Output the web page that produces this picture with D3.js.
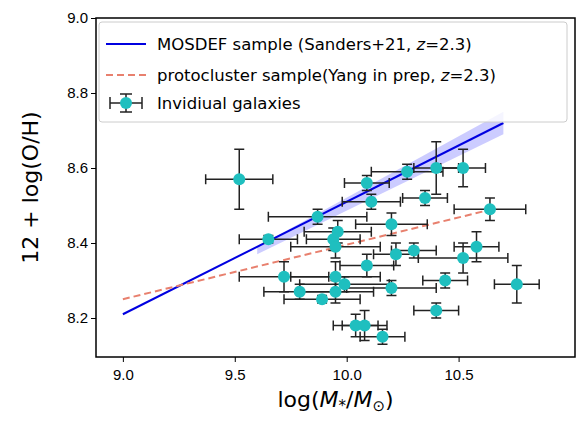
<!DOCTYPE html><html><head><meta charset="utf-8">
<script src="https://cdn.jsdelivr.net/npm/d3@7"></script>
<style>body{margin:0;background:#fff;font-family:"DejaVu Sans",sans-serif}</style></head><body>
<svg id="c" width="587" height="430"></svg>
<script>
const xTicks=[9.0,9.5,10.0,10.5];
const yTicks=[8.2,8.4,8.6,8.8,9.0];
const galX=[9.52,9.65,9.87,9.72,9.79,9.89,9.94,9.96,9.95,9.95,9.95,9.99,10.04,10.08,10.09,10.09,10.11,10.16,10.20,10.20,10.22,10.27,10.30,10.35,10.40,10.40,10.44,10.52,10.52,10.58,10.64,10.76];
const galY=[8.57,8.41,8.47,8.31,8.27,8.25,8.41,8.43,8.39,8.31,8.27,8.29,8.18,8.18,8.34,8.56,8.51,8.15,8.45,8.28,8.37,8.59,8.38,8.52,8.60,8.22,8.30,8.60,8.36,8.39,8.49,8.29];
const galXerr=[0.15,0.13,0.22,0.20,0.16,0.17,0.12,0.15,0.20,0.20,0.17,0.20,0.10,0.10,0.12,0.10,0.13,0.10,0.16,0.20,0.10,0.16,0.10,0.10,0.10,0.10,0.10,0.10,0.20,0.10,0.16,0.10];
const galYerr=[0.08,0.01,0.02,0.04,0.02,0.01,0.03,0.03,0.03,0.04,0.03,0.02,0.03,0.04,0.03,0.02,0.02,0.02,0.03,0.02,0.03,0.02,0.02,0.02,0.07,0.02,0.02,0.05,0.04,0.04,0.03,0.05];
const mosX=[9.0,10.7], mosY=[8.21,8.72];
const bandX=[9.6,10.7], bandLo=[8.37,8.69], bandHi=[8.39,8.75];
const protoX=[9.0,10.65], protoY=[8.25,8.49];
const L=96,R=575,T=18,B=357;
const x=d3.scaleLinear().domain([8.88,11.02]).range([L,R]);
const y=d3.scaleLinear().domain([8.096,9.0]).range([B,T]);
const svg=d3.select("#c");
svg.append("path").attr("d",d3.area().x(d=>x(d[0])).y0(d=>y(d[1])).y1(d=>y(d[2]))(bandX.map((v,i)=>[v,bandLo[i],bandHi[i]]))).attr("fill","#0000ff").attr("opacity",0.2);
svg.append("path").attr("d",d3.line()(mosX.map((v,i)=>[x(v),y(mosY[i])]))).attr("stroke","#0000e0").attr("stroke-width",2).attr("fill","none");
svg.append("path").attr("d",d3.line()(protoX.map((v,i)=>[x(v),y(protoY[i])]))).attr("stroke","#e8806e").attr("stroke-width",2).attr("stroke-dasharray","7,4").attr("fill","none");
const g=svg.append("g").attr("stroke","#222").attr("stroke-width",1.5);
galX.forEach((gx,i)=>{const gy=galY[i],ex=galXerr[i],ey=galYerr[i];
 g.append("line").attr("x1",x(gx-ex)).attr("x2",x(gx+ex)).attr("y1",y(gy)).attr("y2",y(gy));
 g.append("line").attr("x1",x(gx)).attr("x2",x(gx)).attr("y1",y(gy-ey)).attr("y2",y(gy+ey));
 [gx-ex,gx+ex].forEach(v=>g.append("line").attr("x1",x(v)).attr("x2",x(v)).attr("y1",y(gy)-5).attr("y2",y(gy)+5));
 [gy-ey,gy+ey].forEach(v=>g.append("line").attr("x1",x(gx)-5).attr("x2",x(gx)+5).attr("y1",y(v)).attr("y2",y(v)));
});
svg.append("g").selectAll("circle").data(galX).join("circle").attr("cx",d=>x(d)).attr("cy",(d,i)=>y(galY[i])).attr("r",6).attr("fill","#1fbfbf");
const xa=svg.append("g").attr("transform",`translate(0,${B})`).call(d3.axisBottom(x).tickValues(xTicks).tickFormat(d3.format(".1f")).tickSizeOuter(0).tickSize(5));
const ya=svg.append("g").attr("transform",`translate(${L},0)`).call(d3.axisLeft(y).tickValues(yTicks).tickFormat(d3.format(".1f")).tickSizeOuter(0).tickSize(5));
[xa,ya].forEach(a=>{a.selectAll("text").attr("font-size",15).attr("fill","#000");a.select(".domain").remove();});
xa.selectAll("text").attr("dy","1em");
svg.append("rect").attr("x",L).attr("y",T).attr("width",R-L).attr("height",B-T).attr("fill","none").attr("stroke","#000").attr("stroke-width",1.5);
const lg=svg.append("g");
lg.append("rect").attr("x",99).attr("y",22).attr("width",468).attr("height",100).attr("rx",3).attr("fill","#fff").attr("fill-opacity",0.8).attr("stroke","#ccc");
lg.append("line").attr("x1",106).attr("x2",146).attr("y1",44).attr("y2",44).attr("stroke","#0000e0").attr("stroke-width",2);
lg.append("line").attr("x1",106).attr("x2",146).attr("y1",75).attr("y2",75).attr("stroke","#e8806e").attr("stroke-width",2).attr("stroke-dasharray","7,4");
lg.append("line").attr("x1",126).attr("x2",126).attr("y1",94).attr("y2",112).attr("stroke","#222").attr("stroke-width",1.5);
lg.append("line").attr("x1",110).attr("x2",142).attr("y1",103).attr("y2",103).attr("stroke","#222").attr("stroke-width",1.5);
[[110,110,97,109],[142,142,97,109],[120,132,94,94],[120,132,112,112]].forEach(c=>lg.append("line").attr("x1",c[0]).attr("x2",c[1]).attr("y1",c[2]).attr("y2",c[3]).attr("stroke","#222").attr("stroke-width",1.5));
lg.append("circle").attr("cx",126).attr("cy",103).attr("r",6).attr("fill","#1fbfbf");
const t1=lg.append("text").attr("x",157).attr("y",50).attr("font-size",16.5);
t1.append("tspan").text("MOSDEF sample (Sanders+21, ");t1.append("tspan").attr("font-style","italic").text("z");t1.append("tspan").text("=2.3)");
const t2=lg.append("text").attr("x",157).attr("y",81).attr("font-size",16.5);
t2.append("tspan").text("protocluster sample(Yang in prep, ");t2.append("tspan").attr("font-style","italic").text("z");t2.append("tspan").text("=2.3)");
lg.append("text").attr("x",157).attr("y",109).attr("font-size",16.5).text("Invidiual galaxies");
const xl=svg.append("text").attr("x",(L+R)/2).attr("y",407).attr("text-anchor","middle").attr("font-size",22);
xl.append("tspan").text("log(");xl.append("tspan").attr("font-style","italic").text("M");xl.append("tspan").attr("font-size",15).attr("dy",4).text("*");
xl.append("tspan").attr("dy",-4).text("/");xl.append("tspan").attr("font-style","italic").text("M");xl.append("tspan").attr("font-size",15).attr("dy",4).text("⊙");xl.append("tspan").attr("dy",-4).text(")");
svg.append("text").attr("transform",`translate(38,${(T+B)/2}) rotate(-90)`).attr("text-anchor","middle").attr("font-size",22).text("12 + log(O/H)");
</script></body></html>
